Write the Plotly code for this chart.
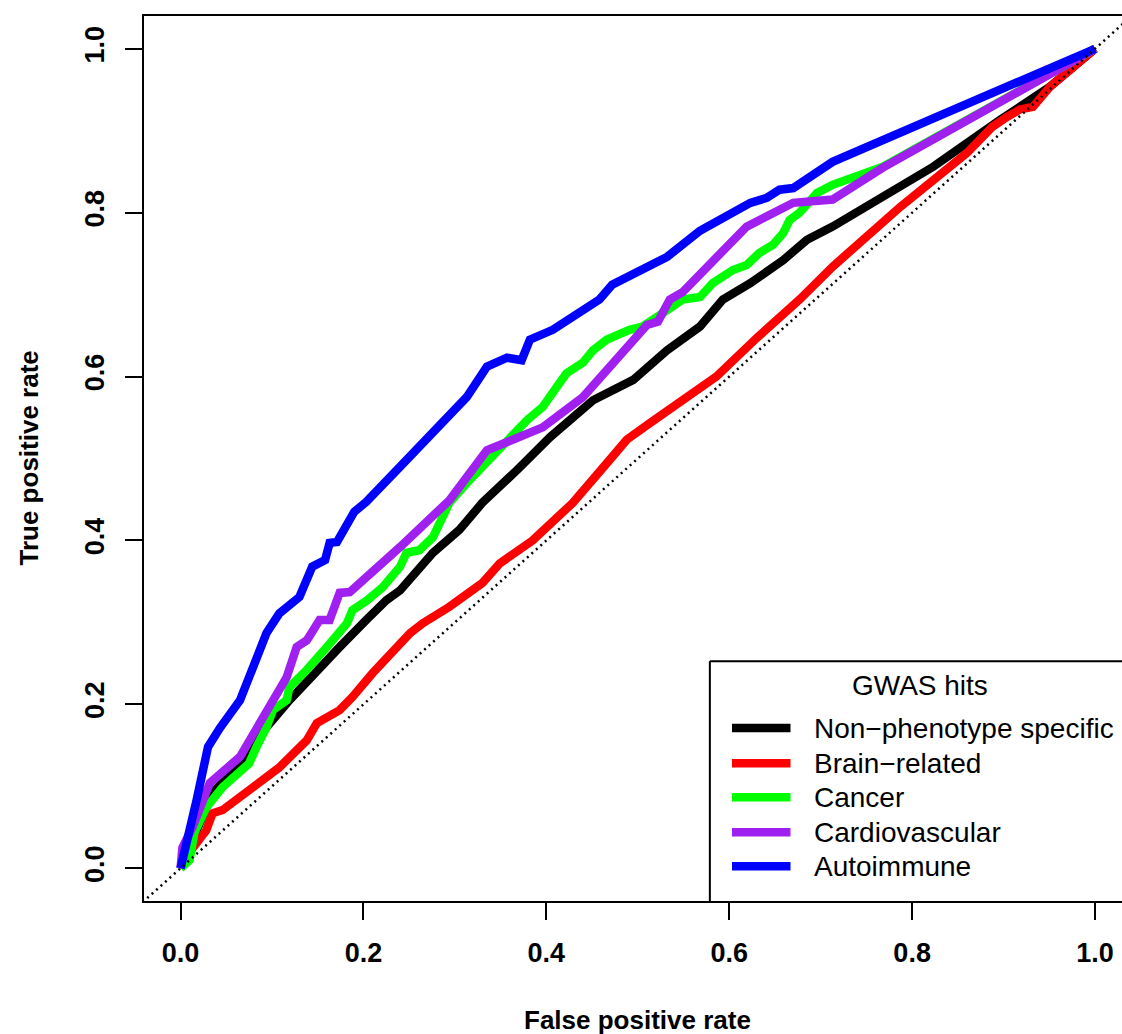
import plotly.graph_objects as go

# ---- data ----
nonspec_x = [0, 0.0175, 0.035, 0.061, 0.075, 0.094, 0.119, 0.144, 0.174, 0.203, 0.225, 0.240, 0.276, 0.305,
             0.330, 0.368, 0.404, 0.451, 0.495, 0.532, 0.568, 0.593, 0.623, 0.659, 0.685, 0.713, 0.823, 0.896, 0.951, 1.0]
nonspec_y = [0, 0.046, 0.092, 0.123, 0.144, 0.172, 0.205, 0.233, 0.270, 0.303, 0.327, 0.339, 0.385, 0.413,
             0.446, 0.486, 0.526, 0.571, 0.596, 0.632, 0.661, 0.694, 0.714, 0.742, 0.767, 0.783, 0.856, 0.913, 0.954, 1.0]

brain_x = [0, 0.01, 0.028, 0.035, 0.046, 0.075, 0.108, 0.138, 0.149, 0.174, 0.188, 0.210, 0.232, 0.251, 0.265,
           0.294, 0.330, 0.349, 0.385, 0.429, 0.469, 0.488, 0.513, 0.549, 0.586, 0.630, 0.677, 0.713, 0.787, 0.860,
           0.888, 0.904, 0.918, 0.932, 0.951, 1.0]
brain_y = [0, 0.02, 0.046, 0.067, 0.071, 0.095, 0.123, 0.156, 0.177, 0.193, 0.209, 0.238, 0.263, 0.287, 0.299,
           0.319, 0.348, 0.372, 0.400, 0.446, 0.498, 0.523, 0.543, 0.571, 0.600, 0.647, 0.694, 0.734, 0.807, 0.873,
           0.905, 0.917, 0.926, 0.929, 0.954, 1.0]

cancer_x = [0, 0.0098, 0.015, 0.028, 0.046, 0.065, 0.075, 0.083, 0.094, 0.101, 0.116, 0.119, 0.138, 0.160, 0.182,
            0.188, 0.204, 0.221, 0.240, 0.247, 0.261, 0.276, 0.294, 0.313, 0.349, 0.379, 0.396, 0.411, 0.415, 0.422,
            0.440, 0.451, 0.466, 0.491, 0.505, 0.532, 0.549, 0.568, 0.582, 0.604, 0.619, 0.633, 0.648, 0.659, 0.666,
            0.677, 0.696, 0.713, 0.740, 0.768, 1.0]
cancer_y = [0, 0.0098, 0.043, 0.074, 0.099, 0.120, 0.128, 0.148, 0.172, 0.193, 0.205, 0.221, 0.242, 0.270, 0.299,
            0.315, 0.327, 0.343, 0.368, 0.385, 0.388, 0.404, 0.446, 0.470, 0.514, 0.547, 0.563, 0.584, 0.593, 0.604,
            0.617, 0.632, 0.645, 0.657, 0.661, 0.681, 0.694, 0.697, 0.714, 0.730, 0.736, 0.751, 0.761, 0.775, 0.791,
            0.800, 0.824, 0.834, 0.846, 0.856, 1.0]

cardio_x = [0, 0.002, 0.013, 0.032, 0.065, 0.094, 0.108, 0.116, 0.127, 0.138, 0.152, 0.163, 0.174, 0.185, 0.240,
            0.294, 0.335, 0.349, 0.385, 0.396, 0.440, 0.477, 0.495, 0.510, 0.522, 0.535, 0.549, 0.586, 0.619, 0.670,
            0.713, 0.768, 1.0]
cardio_y = [0, 0.025, 0.050, 0.104, 0.136, 0.193, 0.217, 0.233, 0.270, 0.278, 0.303, 0.303, 0.336, 0.337, 0.392,
            0.449, 0.510, 0.516, 0.531, 0.538, 0.575, 0.620, 0.641, 0.663, 0.667, 0.694, 0.703, 0.745, 0.783, 0.812,
            0.816, 0.855, 1.0]

autoimm_x = [0, 0.0098, 0.0175, 0.030, 0.043, 0.065, 0.094, 0.108, 0.123, 0.130, 0.144, 0.158, 0.163, 0.171, 0.190,
             0.203, 0.240, 0.276, 0.313, 0.335, 0.357, 0.373, 0.382, 0.407, 0.458, 0.472, 0.495, 0.513, 0.532, 0.568,
             0.623, 0.641, 0.655, 0.670, 0.713, 1.0]
autoimm_y = [0, 0.042, 0.083, 0.148, 0.171, 0.205, 0.287, 0.311, 0.327, 0.331, 0.368, 0.376, 0.397, 0.398, 0.435,
             0.447, 0.490, 0.532, 0.575, 0.612, 0.623, 0.620, 0.645, 0.657, 0.694, 0.712, 0.726, 0.734, 0.746, 0.778,
             0.812, 0.818, 0.828, 0.830, 0.862, 1.0]

series_names = ["Non\u2212phenotype specific", "Brain\u2212related", "Cancer", "Cardiovascular", "Autoimmune"]
series_colors = ["#000000", "#FF0000", "#00FF00", "#A020F0", "#0000FF"]
series_x = [nonspec_x, brain_x, cancer_x, cardio_x, autoimm_x]
series_y = [nonspec_y, brain_y, cancer_y, cardio_y, autoimm_y]

tick_vals = [0, 0.2, 0.4, 0.6, 0.8, 1.0]
tick_text = ["0.0", "0.2", "0.4", "0.6", "0.8", "1.0"]
legend_title = "GWAS hits"
x_title = "False positive rate"
y_title = "True positive rate"

FONT = "Liberation Sans, Arial, Helvetica, sans-serif"
LW = 8.5

fig = go.Figure()
for xs, ys, nm, col in zip(series_x, series_y, series_names, series_colors):
    fig.add_trace(go.Scatter(x=xs, y=ys, mode="lines", name=nm, showlegend=False,
                             line=dict(color=col, width=LW, shape="linear"), hoverinfo="skip"))

# diagonal reference (abline, dotted) drawn on top
fig.add_trace(go.Scatter(x=[-0.1, 1.1], y=[-0.1, 1.1], mode="lines", showlegend=False,
                         line=dict(color="black", width=2.5, dash="2px,4px"), hoverinfo="skip"))

# ---- manual legend (R style) ----
leg_left, leg_top = 0.5788, 0.2527
row_y = [0.171, 0.128, 0.0867, 0.044, 0.0024]
line_x0, line_x1, text_x = 0.603, 0.667, 0.691
shapes = [
    dict(type="line", xref="x", yref="y", x0=leg_left, x1=leg_left, y0=-0.04, y1=leg_top,
         line=dict(color="black", width=2)),
    dict(type="line", xref="x", yref="y", x0=leg_left, x1=1.06, y0=leg_top, y1=leg_top,
         line=dict(color="black", width=2)),
]
annotations = [
    dict(x=0.8085, y=0.2234, xref="x", yref="y", text=legend_title, showarrow=False,
         font=dict(family=FONT, size=28, color="black"), xanchor="center", yanchor="middle"),
    dict(x=0.5, y=-0.1345, xref="x", yref="paper", text=x_title, showarrow=False,
         font=dict(family=FONT, size=26, color="black", weight=700), xanchor="center", yanchor="middle"),
    dict(x=-0.1186, y=0.5, xref="paper", yref="y", text=y_title, showarrow=False, textangle=-90,
         font=dict(family=FONT, size=26, color="black", weight=700), xanchor="center", yanchor="middle"),
]
for ry, nm, col in zip(row_y, series_names, series_colors):
    shapes.append(dict(type="line", xref="x", yref="y", x0=line_x0, x1=line_x1, y0=ry, y1=ry,
                       line=dict(color=col, width=LW)))
    annotations.append(dict(x=text_x, y=ry, xref="x", yref="y", text=nm, showarrow=False,
                            font=dict(family=FONT, size=28, color="black"), xanchor="left", yanchor="middle"))

fig.update_layout(
    width=1122, height=1034, autosize=False,
    margin=dict(l=144, r=0, t=16, b=133, pad=0),
    paper_bgcolor="white", plot_bgcolor="white",
    shapes=shapes, annotations=annotations,
    xaxis=dict(range=[-0.04, 1.0295], tickvals=tick_vals, ticktext=tick_text,
               showgrid=False, zeroline=False, showline=True, mirror=True, linecolor="black", linewidth=2,
               ticks="outside", ticklen=17, tickwidth=2, tickcolor="black", ticklabelstandoff=10,
               tickfont=dict(family=FONT, size=27, color="black", weight=700)),
    yaxis=dict(range=[-0.04, 1.04], tickvals=tick_vals, ticktext=tick_text, tickangle=-90,
               showgrid=False, zeroline=False, showline=True, mirror=False, linecolor="black", linewidth=2,
               ticks="outside", ticklen=17, tickwidth=2, tickcolor="black", ticklabelstandoff=10,
               tickfont=dict(family=FONT, size=27, color="black", weight=700)),
)

fig.write_html("out.html", config={"displayModeBar": False, "staticPlot": True},
               post_script="document.body.style.margin='0';document.body.style.overflow='hidden';")
